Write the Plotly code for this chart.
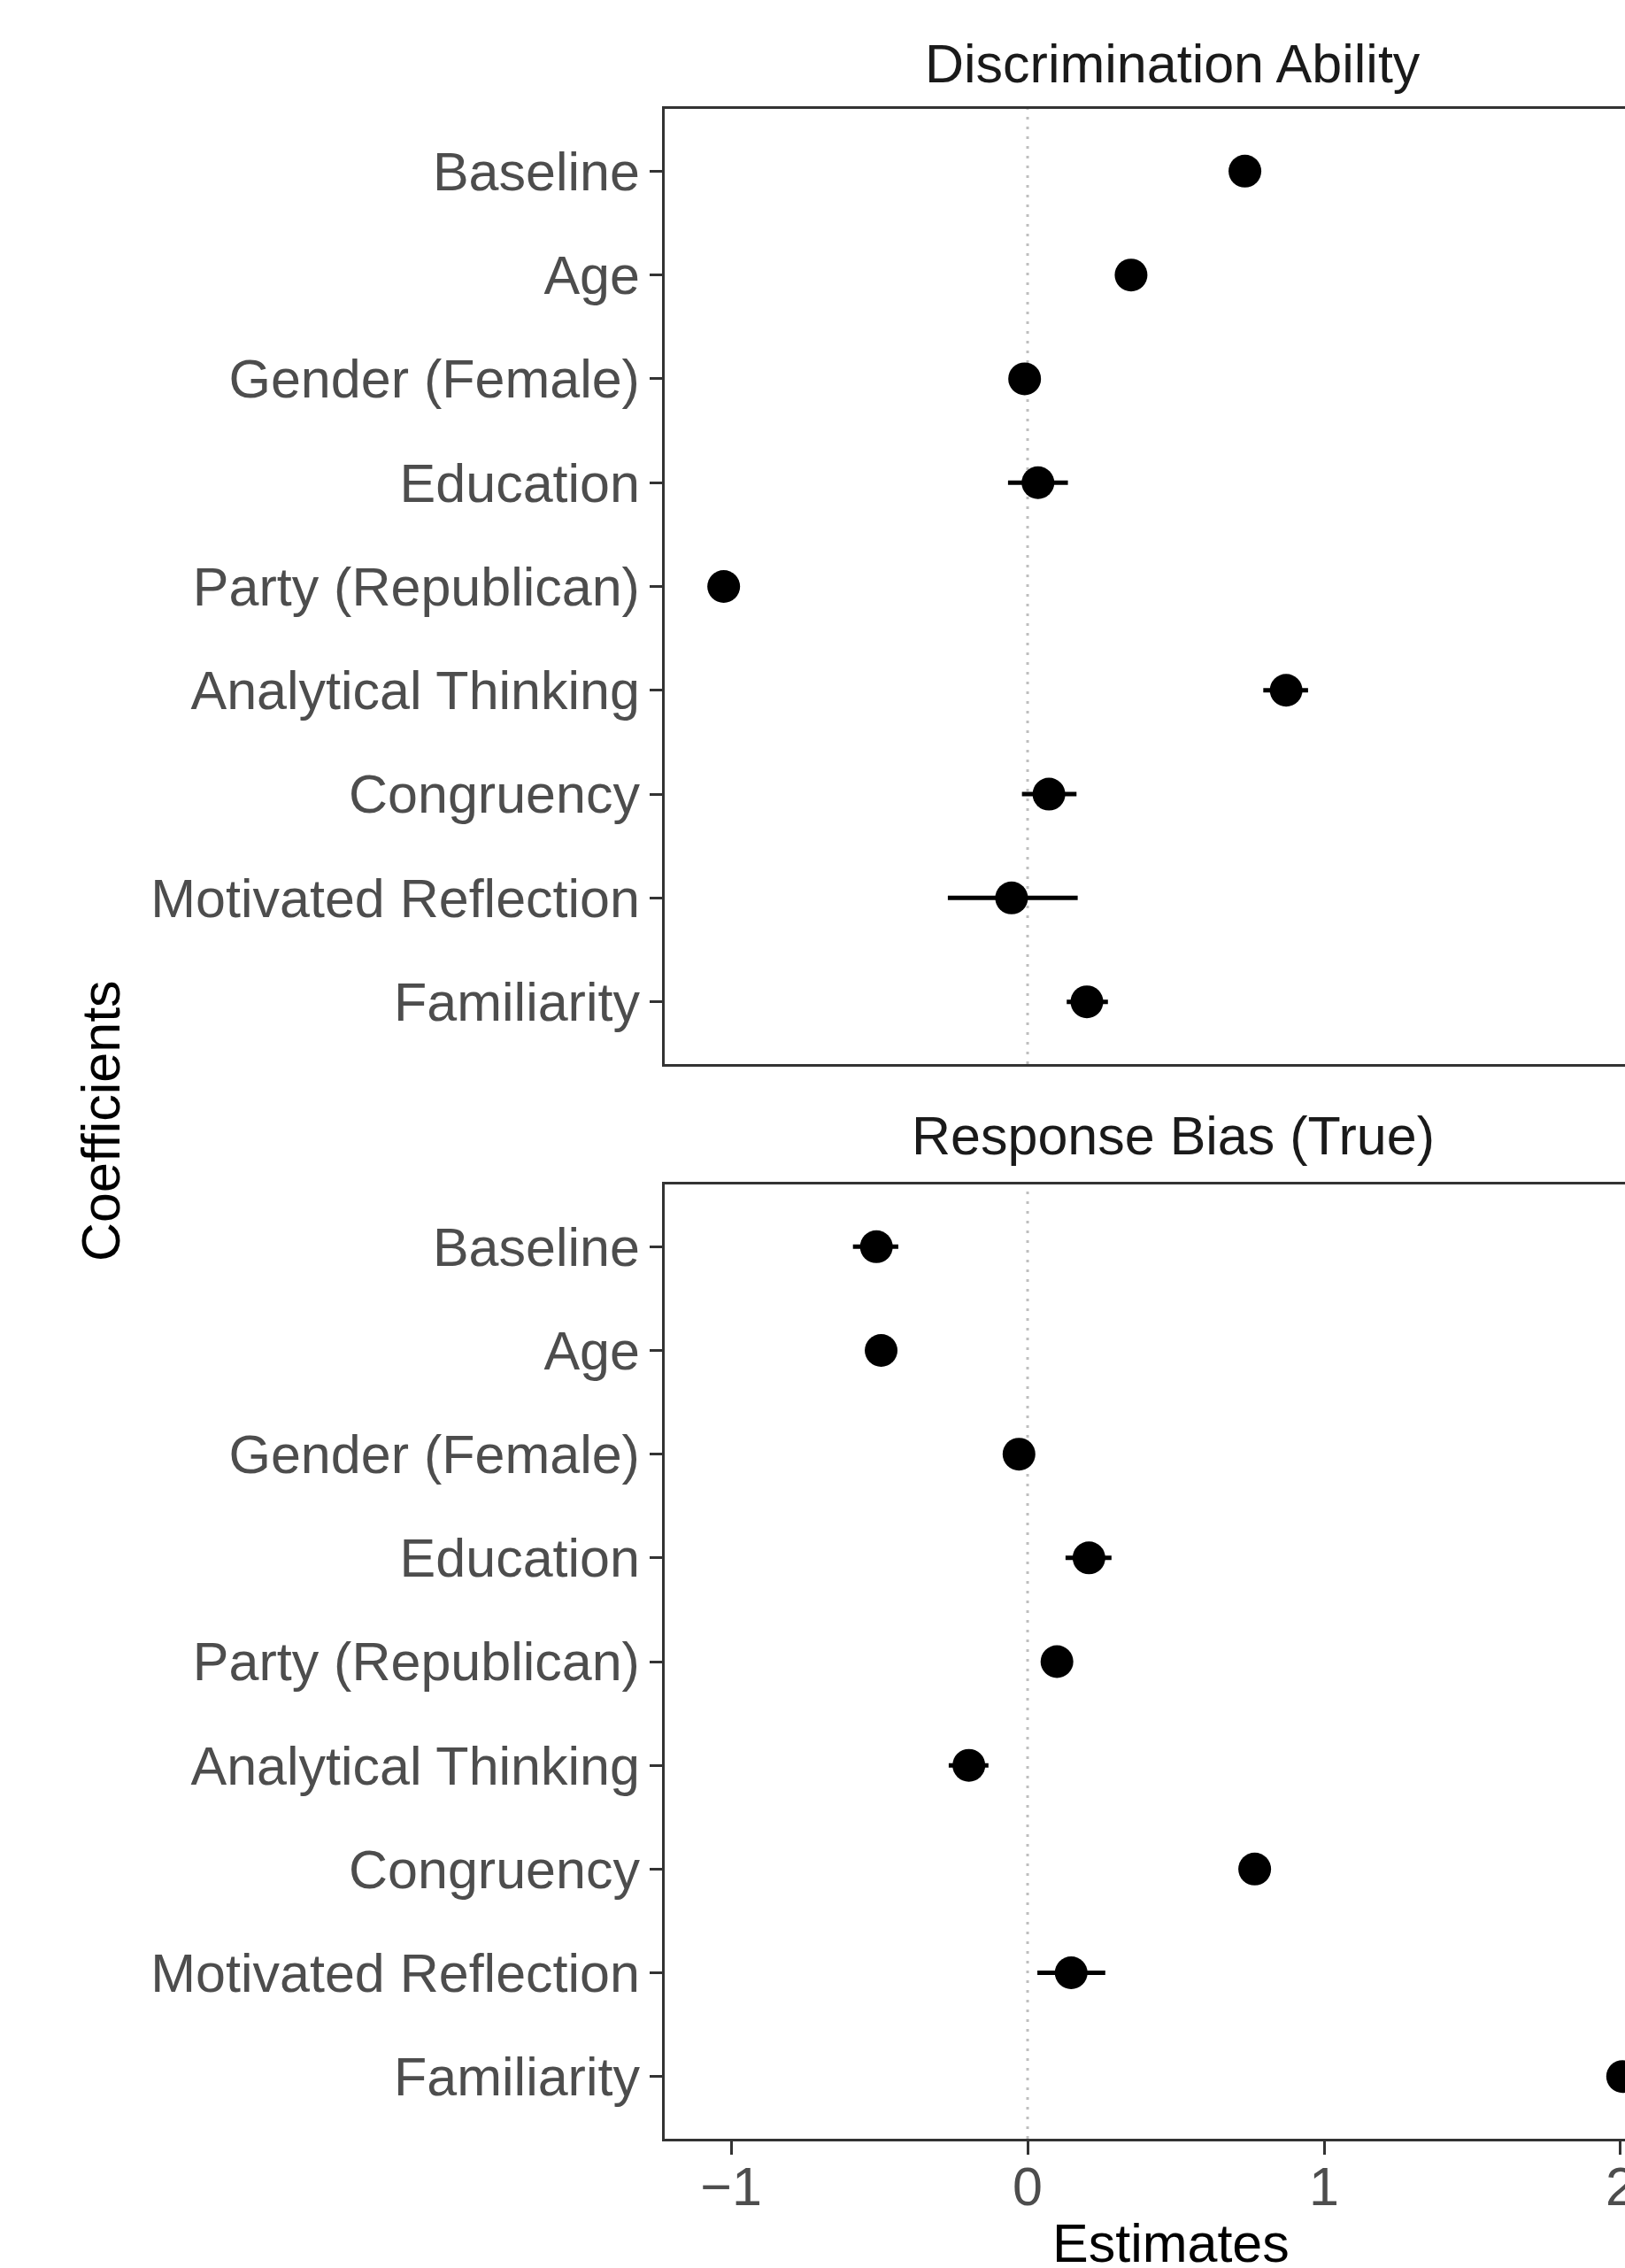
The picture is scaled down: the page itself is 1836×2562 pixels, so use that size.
import plotly.graph_objects as go

# Coefficient names, top to bottom
coefficients = [
    "Baseline", "Age", "Gender (Female)", "Education", "Party (Republican)",
    "Analytical Thinking", "Congruency", "Motivated Reflection", "Familiarity",
]

# Discrimination ability: estimate with lower / upper interval bounds
disc_est = [0.733, 0.349, -0.010, 0.035, -1.025, 0.872, 0.072, -0.054, 0.200]
disc_lo = [0.705, 0.320, -0.040, -0.066, -1.060, 0.795, -0.019, -0.269, 0.132]
disc_hi = [0.761, 0.378, 0.020, 0.136, -0.990, 0.946, 0.165, 0.169, 0.271]

# Response bias (True): estimate with lower / upper interval bounds
bias_est = [-0.510, -0.494, -0.029, 0.207, 0.099, -0.198, 0.766, 0.147, 2.007]
bias_lo = [-0.589, -0.522, -0.055, 0.128, 0.072, -0.266, 0.740, 0.033, 1.970]
bias_hi = [-0.436, -0.466, -0.003, 0.283, 0.126, -0.132, 0.792, 0.262, 2.047]

panel_titles = ["Discrimination Ability", "Response Bias (True)"]
x_ticks = [-1, 0, 1, 2]
x_title = "Estimates"
y_title = "Coefficients"

W, H = 1836, 2562
FONT = "Liberation Sans, Arial, Helvetica, sans-serif"
FS = 61
AXIS_COL = "#333333"

fig = go.Figure()

panels = [
    (disc_est, disc_lo, disc_hi, "x", "y"),
    (bias_est, bias_lo, bias_hi, "x2", "y2"),
]
for est, lo, hi, xa, ya in panels:
    fig.add_trace(go.Scatter(
        x=est, y=coefficients, xaxis=xa, yaxis=ya, mode="markers",
        marker=dict(size=37, color="black", line=dict(width=0)),
        error_x=dict(
            type="data", symmetric=False,
            array=[h - e for e, h in zip(est, hi)],
            arrayminus=[e - l for e, l in zip(est, lo)],
            thickness=5, width=0, color="black",
        ),
        showlegend=False, hoverinfo="skip",
    ))

x_range = [-1.224, 2.015]

def px_to_paper_y(py):
    return 1 - py / H

top_dom = [px_to_paper_y(1202), px_to_paper_y(123)]
bot_dom = [px_to_paper_y(2416), px_to_paper_y(1338)]
x_dom = [751 / W, 1.0]

common_x = dict(
    range=x_range, domain=x_dom, showgrid=False, zeroline=False,
    showline=True, linecolor=AXIS_COL, linewidth=2.7, mirror=True,
    automargin=False,
)
common_y = dict(
    type="category", categoryorder="array", categoryarray=coefficients,
    range=[8.6, -0.6], showgrid=False, zeroline=False,
    showline=True, linecolor=AXIS_COL, linewidth=2.7, mirror=False,
    ticks="outside", ticklen=14, tickwidth=2.7, tickcolor=AXIS_COL,
    tickfont=dict(family=FONT, size=FS, color="#4D4D4D"),
    ticklabelstandoff=-1, automargin=False,
)

fig.update_layout(
    width=W, height=H,
    margin=dict(l=0, r=0, t=0, b=0),
    paper_bgcolor="white", plot_bgcolor="white",
    font=dict(family=FONT, size=FS, color="black"),
    xaxis=dict(**common_x, anchor="y", showticklabels=False, ticks=""),
    yaxis=dict(**common_y, domain=top_dom, anchor="x"),
    xaxis2=dict(
        **common_x, anchor="y2", tickvals=x_ticks, ticks="outside",
        ticklen=15, tickwidth=2.7, tickcolor=AXIS_COL,
        tickfont=dict(family=FONT, size=FS, color="#4D4D4D"),
        ticklabelstandoff=-16, ticklabeloverflow="allow",
    ),
    yaxis2=dict(**common_y, domain=bot_dom, anchor="x2"),
)

# Dotted reference line at zero in each panel
for xr, yr in [("x", "y domain"), ("x2", "y2 domain")]:
    fig.add_shape(
        type="line", xref=xr, yref=yr, x0=0, x1=0, y0=0, y1=1,
        line=dict(color="#BEBEBE", width=3, dash="3px,8px"), layer="below",
    )

# Panel strip titles
for title, py in zip(panel_titles, [72, 1283]):
    fig.add_annotation(
        text=title, xref="paper", yref="paper", x=1325 / W, y=px_to_paper_y(py),
        xanchor="center", yanchor="middle", showarrow=False,
        font=dict(family=FONT, size=FS, color="#1A1A1A"),
    )

# Axis titles
fig.add_annotation(
    text=x_title, xref="paper", yref="paper", x=1323 / W, y=px_to_paper_y(2534),
    xanchor="center", yanchor="middle", showarrow=False,
    font=dict(family=FONT, size=FS, color="black"),
)
fig.add_annotation(
    text=y_title, xref="paper", yref="paper", x=114 / W, y=px_to_paper_y(1266),
    xanchor="center", yanchor="middle", textangle=-90, showarrow=False,
    font=dict(family=FONT, size=FS, color="black"),
)

fig.write_html("out.html")
